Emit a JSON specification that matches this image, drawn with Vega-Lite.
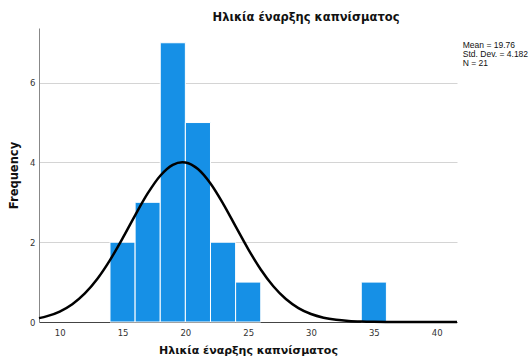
{
  "$schema": "https://vega.github.io/schema/vega-lite/v6.json",
  "width": 418,
  "height": 294,
  "autosize": "none",
  "padding": {"left": 39, "top": 28, "right": 72, "bottom": 34},
  "background": "white",
  "title": {
    "text": "Ηλικία έναρξης καπνίσματος",
    "font": "DejaVu Sans",
    "fontSize": 11.5,
    "fontWeight": "bold",
    "color": "#111",
    "anchor": "middle",
    "dx": 58,
    "offset": 5
  },
  "datasets": {
    "bins": [
      {"bin_start": 14, "bin_end": 16, "count": 2},
      {"bin_start": 16, "bin_end": 18, "count": 3},
      {"bin_start": 18, "bin_end": 20, "count": 7},
      {"bin_start": 20, "bin_end": 22, "count": 5},
      {"bin_start": 22, "bin_end": 24, "count": 2},
      {"bin_start": 24, "bin_end": 26, "count": 1},
      {"bin_start": 34, "bin_end": 36, "count": 1}
    ],
    "curve": [
      {"x": 8.35, "y": 0.0969},
      {"x": 9, "y": 0.1463},
      {"x": 10, "y": 0.2631},
      {"x": 11, "y": 0.4466},
      {"x": 12, "y": 0.7163},
      {"x": 13, "y": 1.0849},
      {"x": 14, "y": 1.5519},
      {"x": 15, "y": 2.0963},
      {"x": 16, "y": 2.6744},
      {"x": 17, "y": 3.2224},
      {"x": 18, "y": 3.667},
      {"x": 19, "y": 3.941},
      {"x": 19.76, "y": 4.0066},
      {"x": 20, "y": 4.0},
      {"x": 21, "y": 3.8343},
      {"x": 22, "y": 3.4712},
      {"x": 23, "y": 2.9678},
      {"x": 24, "y": 2.3963},
      {"x": 25, "y": 1.8275},
      {"x": 26, "y": 1.3161},
      {"x": 27, "y": 0.8952},
      {"x": 28, "y": 0.5751},
      {"x": 29, "y": 0.3489},
      {"x": 30, "y": 0.1999},
      {"x": 31, "y": 0.1081},
      {"x": 32, "y": 0.0553},
      {"x": 33, "y": 0.0267},
      {"x": 34, "y": 0.0122},
      {"x": 35, "y": 0.0052},
      {"x": 36, "y": 0.0021},
      {"x": 37, "y": 0.0008},
      {"x": 38, "y": 0.0003},
      {"x": 39, "y": 0.0001},
      {"x": 40, "y": 0.0},
      {"x": 41, "y": 0.0},
      {"x": 41.62, "y": 0.0}
    ]
  },
  "config": {
    "view": {"stroke": null},
    "axis": {
      "labelFont": "DejaVu Sans",
      "titleFont": "DejaVu Sans",
      "labelFontSize": 8.5,
      "labelColor": "#333",
      "titleFontSize": 11.5,
      "titleFontWeight": "bold",
      "titleColor": "#111",
      "ticks": false
    }
  },
  "layer": [
    {
      "data": {"name": "bins"},
      "mark": {"type": "bar", "color": "#1690e6", "stroke": "white", "strokeWidth": 1, "orient": "vertical"},
      "encoding": {
        "x": {
          "field": "bin_start",
          "type": "quantitative",
          "scale": {"domain": [8.35, 41.62], "nice": false, "zero": false, "padding": 0},
          "axis": {
            "values": [10, 15, 20, 25, 30, 35, 40],
            "grid": false,
            "domainColor": "#444",
            "domainWidth": 1,
            "labelPadding": 6,
            "title": "Ηλικία έναρξης καπνίσματος",
            "titleFontSize": 11,
            "titlePadding": 8
          }
        },
        "x2": {"field": "bin_end"},
        "y": {
          "field": "count",
          "type": "quantitative",
          "scale": {"domain": [0, 7.37], "nice": false},
          "axis": {
            "values": [0, 2, 4, 6],
            "grid": true,
            "gridColor": "#d4d4d4",
            "gridWidth": 1,
            "domainColor": "#888",
            "labelPadding": 4,
            "title": "Frequency",
            "titlePadding": 10
          }
        },
        "y2": {"datum": 0}
      }
    },
    {
      "data": {"name": "curve"},
      "mark": {"type": "line", "color": "black", "strokeWidth": 2.5, "interpolate": "monotone"},
      "encoding": {
        "x": {"field": "x", "type": "quantitative"},
        "y": {"field": "y", "type": "quantitative"}
      }
    },
    {
      "data": {"values": [{"stats": "Mean = 19.76|Std. Dev. = 4.182|N = 21"}]},
      "transform": [{"calculate": "split(datum.stats, '|')", "as": "lines"}],
      "mark": {"type": "text", "align": "left", "baseline": "top", "font": "Liberation Sans", "fontSize": 8.5, "lineHeight": 9, "color": "#111"},
      "encoding": {
        "x": {"datum": 42.08},
        "y": {"datum": 7.05},
        "text": {"field": "lines"}
      }
    }
  ]
}
